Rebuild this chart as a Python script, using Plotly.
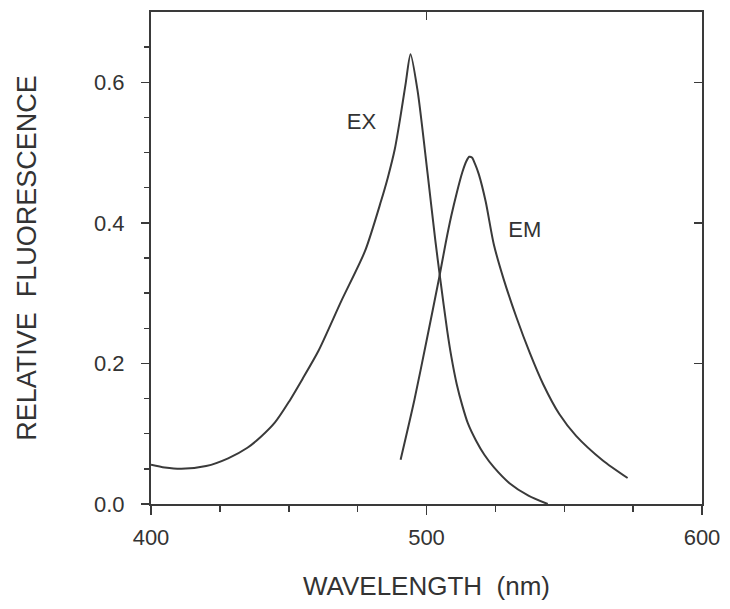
import plotly.graph_objects as go

ex_wl = [400, 405, 411, 420, 428, 435, 440, 445, 450, 455, 460.8, 469.1, 477.7, 483.5, 486, 488.5, 490.5, 492.5,
         494.2, 496.8, 500.4, 503.2, 505, 507.5, 509, 511, 513, 515, 518, 521, 524.5, 530, 537, 544]
ex_val = [0.056, 0.052, 0.050, 0.054, 0.065, 0.080, 0.096, 0.116, 0.145, 0.178, 0.218, 0.289, 0.360, 0.431, 0.465,
          0.505, 0.55, 0.60, 0.640, 0.587, 0.47, 0.375, 0.32, 0.247, 0.21, 0.17, 0.14, 0.115, 0.09, 0.07, 0.052,
          0.030, 0.012, 0.0]

em_wl = [490.6, 495.6, 500, 504.6, 507, 509, 511, 513, 514.5, 515.5, 516.5, 517.5, 519, 521.5, 524.4, 528, 532.7,
         537.5, 542.4, 548.2, 554.3, 564, 573]
em_val = [0.063, 0.148, 0.232, 0.322, 0.372, 0.41, 0.443, 0.472, 0.488, 0.494, 0.493, 0.485, 0.469, 0.43, 0.37,
          0.32, 0.265, 0.215, 0.170, 0.128, 0.097, 0.062, 0.037]

labels = ["EX", "EM"]
label_x = [476.4, 535.7]
label_y = [0.542, 0.387]

LINE = "#3a3a3a"
TXT = "#333333"
FONT = "Liberation Sans, Arial, sans-serif"

fig = go.Figure()
fig.add_trace(go.Scatter(x=ex_wl, y=ex_val, mode="lines", line=dict(color=LINE, width=2, shape="spline", smoothing=0.7),
                         showlegend=False, hoverinfo="skip"))
fig.add_trace(go.Scatter(x=em_wl, y=em_val, mode="lines", line=dict(color=LINE, width=2, shape="spline", smoothing=0.7),
                         showlegend=False, hoverinfo="skip"))
fig.add_trace(go.Scatter(x=label_x, y=label_y, mode="text", text=labels,
                         textfont=dict(family=FONT, size=22, color=TXT), showlegend=False, hoverinfo="skip"))
# invisible trace for overlay axes (inside ticks on top and right)
fig.add_trace(go.Scatter(x=[400, 600], y=[0, 0.7], xaxis="x2", yaxis="y2", mode="markers",
                         marker=dict(opacity=0), showlegend=False, hoverinfo="skip"))

fig.update_layout(
    width=730, height=609,
    margin=dict(l=151, r=23, t=10, b=105),
    paper_bgcolor="white", plot_bgcolor="white",
    font=dict(family=FONT, color=TXT),
    xaxis=dict(range=[400, 600], showgrid=False, zeroline=False, showline=True, linecolor=LINE, linewidth=2,
               mirror=True, ticks="outside", ticklen=9, tickwidth=1.5, tickcolor=LINE,
               tickvals=[400, 500, 600], ticktext=["400", "500", "600"],
               minor=dict(tickvals=[425, 450, 475, 525, 550, 575], ticks="outside", ticklen=6, tickwidth=1.5,
                          tickcolor=LINE, showgrid=False),
               tickfont=dict(size=22, family=FONT, color=TXT), ticklabelstandoff=4,
               title=dict(text="WAVELENGTH  (nm)", font=dict(size=26, family=FONT, color=TXT), standoff=27)),
    yaxis=dict(range=[0, 0.7], showgrid=False, zeroline=False, showline=True, linecolor=LINE, linewidth=2,
               mirror=True, ticks="outside", ticklen=8, tickwidth=1.5, tickcolor=LINE,
               tickvals=[0, 0.2, 0.4, 0.6], ticktext=["0.0", "0.2", "0.4", "0.6"],
               minor=dict(tickvals=[0.05, 0.1, 0.15, 0.25, 0.3, 0.35, 0.45, 0.5, 0.55, 0.65], ticks="outside",
                          ticklen=5, tickwidth=1.5, tickcolor=LINE, showgrid=False),
               tickfont=dict(size=22, family=FONT, color=TXT), ticklabelstandoff=12,
               title=dict(text="RELATIVE  FLUORESCENCE", font=dict(size=27, family=FONT, color=TXT), standoff=50)),
    xaxis2=dict(range=[400, 600], overlaying="x", side="top", showgrid=False, zeroline=False, showline=False,
                ticks="inside", ticklen=8, tickwidth=1.5, tickcolor=LINE, tickvals=[500], showticklabels=False),
    yaxis2=dict(range=[0, 0.7], overlaying="y", side="right", showgrid=False, zeroline=False, showline=False,
                ticks="inside", ticklen=8, tickwidth=1.5, tickcolor=LINE, tickvals=[0.2, 0.4, 0.6],
                showticklabels=False),
)

fig.write_html("out.html", config={"displayModeBar": False, "staticPlot": True},
               post_script="document.body.style.margin='0px';document.body.style.overflow='hidden';")
